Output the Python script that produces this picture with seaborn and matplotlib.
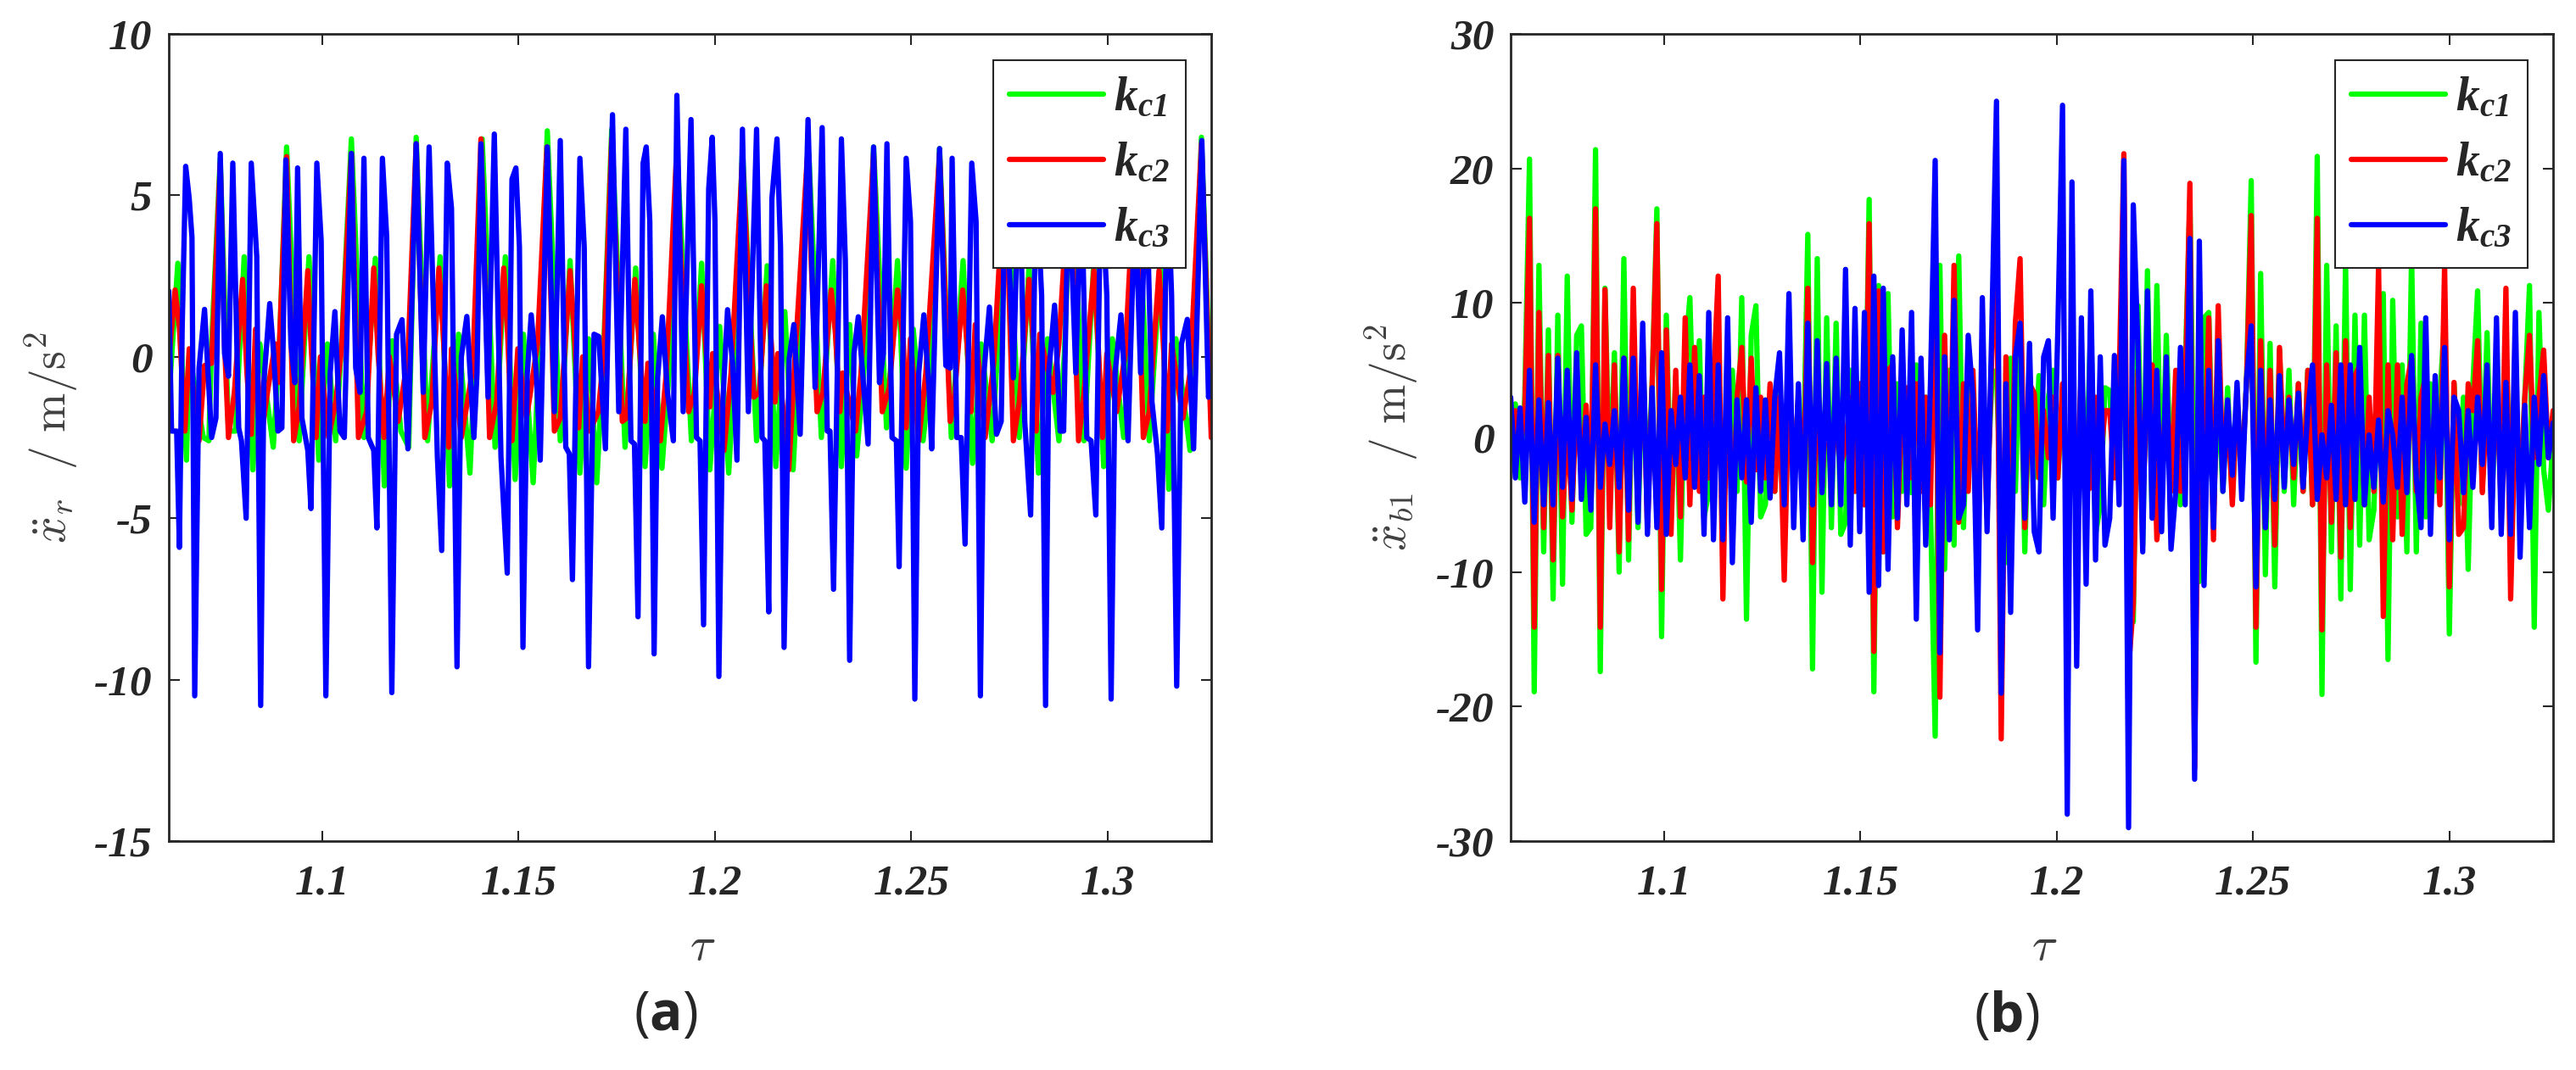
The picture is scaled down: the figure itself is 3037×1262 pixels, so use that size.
import numpy as np
import matplotlib
matplotlib.use("Agg")
import matplotlib.pyplot as plt
import seaborn as sns
from matplotlib.font_manager import FontProperties

# ---------------- panel (a): extrema ----------------
tau_a_c3 = [1.0609, 1.0616, 1.0629, 1.0636, 1.0643, 1.0652, 1.0661, 1.0668, 1.0675, 1.0686,
            1.0700, 1.0718, 1.0729, 1.0740, 1.0751, 1.0761, 1.0772, 1.0787, 1.0794, 1.0806,
            1.0819, 1.0833, 1.0843, 1.0851, 1.0866, 1.0876, 1.0887, 1.0897, 1.0907, 1.0920,
            1.0930, 1.0937, 1.0948, 1.0963, 1.0971, 1.0986, 1.0997, 1.1009, 1.1020, 1.1032,
            1.1045, 1.1056, 1.1074, 1.1085, 1.1096, 1.1106, 1.1117, 1.1131, 1.1139, 1.1153,
            1.1164, 1.1177, 1.1189, 1.1203, 1.1218, 1.1239, 1.1257, 1.1272, 1.1293, 1.1304,
            1.1318, 1.1329, 1.1343, 1.1354, 1.1368, 1.1386, 1.1394, 1.1404, 1.1422, 1.1438,
            1.1455, 1.1471, 1.1483, 1.1493, 1.1502, 1.1511, 1.1522, 1.1532, 1.1545, 1.1555,
            1.1573, 1.1591, 1.1606, 1.1620, 1.1629, 1.1637, 1.1656, 1.1667, 1.1678, 1.1692,
            1.1704, 1.1721, 1.1739, 1.1755, 1.1773, 1.1786, 1.1795, 1.1804, 1.1817, 1.1825,
            1.1834, 1.1845, 1.1854, 1.1866, 1.1879, 1.1894, 1.1903, 1.1919, 1.1939, 1.1953,
            1.1962, 1.1971, 1.1984, 1.1993, 1.2000, 1.2010, 1.2020, 1.2032, 1.2045, 1.2056,
            1.2070, 1.2085, 1.2106, 1.2120, 1.2127, 1.2137, 1.2145, 1.2158, 1.2167, 1.2176,
            1.2189, 1.2201, 1.2217, 1.2237, 1.2255, 1.2273, 1.2286, 1.2293, 1.2302, 1.2322,
            1.2332, 1.2343, 1.2354, 1.2365, 1.2390, 1.2404, 1.2419, 1.2429, 1.2438, 1.2451,
            1.2462, 1.2469, 1.2487, 1.2498, 1.2509, 1.2519, 1.2532, 1.2545, 1.2552, 1.2572,
            1.2588, 1.2599, 1.2604, 1.2616, 1.2627, 1.2637, 1.2654, 1.2665, 1.2676, 1.2685,
            1.2699, 1.2717, 1.2729, 1.2740, 1.2760, 1.2775, 1.2789, 1.2804, 1.2818, 1.2832,
            1.2842, 1.2850, 1.2865, 1.2879, 1.2888, 1.2901, 1.2919, 1.2933, 1.2947, 1.2958,
            1.2970, 1.2983, 1.2998, 1.3009, 1.3019, 1.3034, 1.3052, 1.3070, 1.3084, 1.3098,
            1.3113, 1.3127, 1.3138, 1.3152, 1.3163, 1.3176, 1.3188, 1.3203, 1.3219, 1.3240,
            1.3257, 1.3268]
acc_a_c3 = [2.04, -2.3, -2.3, -5.9, 0.86, 5.9, 4.9, 3.7, -10.5, -0.35,
            1.47, -2.5, -1.9, 6.3, 0.1, -0.6, 6.0, -2.2, -2.6, -5.0,
            6.0, 3.1, -10.8, -0.8, 1.65, 0.1, -2.3, -2.2, 6.1, 0.4,
            -0.8, 5.85, -1.9, -2.9, -4.7, 6.0, 3.6, -10.5, -0.5, 1.4,
            -2.3, -2.5, 6.3, -0.35, -1.1, 6.15, -2.5, -2.9, -5.3, 6.15,
            3.7, -10.4, 0.7, 1.15, -2.85, 6.6, -1.1, 6.5, -3.1, -6.0,
            6.0, 4.6, -9.6, 0.0, 1.25, -2.5, -0.5, 6.6, -1.25, 6.9,
            -3.1, -6.7, 5.5, 5.85, 3.4, -9.0, -0.5, 1.3, -0.5, -3.2,
            6.5, -1.7, 6.7, -2.8, -3.0, -6.9, 6.15, 3.4, -9.6, 0.7,
            0.63, -2.85, 7.5, -1.7, 7.05, -2.6, -2.7, -8.05, 6.0, 6.5,
            4.2, -9.2, -0.65, 1.24, -1.1, -2.6, 8.1, -1.7, 7.35, -2.5,
            -2.6, -8.3, 5.2, 6.8, 4.2, -9.9, -1.4, 1.46, -0.2, -3.2,
            7.05, -1.7, 7.05, -2.5, -2.6, -7.9, 4.9, 6.75, 3.4, -9.0,
            -0.05, 1.0, -2.4, 7.35, -0.95, 7.1, -2.3, -2.3, -7.2, 6.75,
            3.0, -9.4, 0.1, 1.24, -2.7, 6.5, -0.8, 0.1, 6.6, -2.5,
            -2.6, -6.5, 6.15, 4.2, -10.6, -0.5, 1.3, -0.95, -2.85, 6.45,
            -0.27, -0.35, 6.15, -2.5, -2.5, -5.8, 6.0, 4.2, -10.5, -0.5,
            1.54, -2.4, -2.0, 6.2, -0.65, 6.4, -2.0, -4.9, 5.5, 1.9,
            -10.8, -0.5, 1.6, -2.3, -2.3, 5.7, -0.5, 5.7, -2.5, -2.6,
            -4.9, 5.7, 1.9, -10.6, -0.5, 1.3, -2.6, 5.0, -0.5, 5.7,
            -1.4, -3.0, -5.3, 5.7, 1.9, -10.2, 0.4, 1.16, -2.85, 6.7,
            -1.25, -0.5]

tau_a_c2 = [1.0607, 1.0625, 1.0636, 1.0650, 1.0661, 1.0672, 1.0686, 1.0700, 1.0718, 1.0740,
            1.0751, 1.0761, 1.0776, 1.0797, 1.0808, 1.0819, 1.0830, 1.0844, 1.0862, 1.0880,
            1.0887, 1.0909, 1.0927, 1.0941, 1.0963, 1.0970, 1.0984, 1.0995, 1.1016, 1.1034,
            1.1049, 1.1074, 1.1092, 1.1113, 1.1131, 1.1142, 1.1157, 1.1171, 1.1193, 1.1218,
            1.1239, 1.1261, 1.1279, 1.1297, 1.1308, 1.1322, 1.1329, 1.1354, 1.1383, 1.1404,
            1.1426, 1.1444, 1.1462, 1.1472, 1.1483, 1.1498, 1.1520, 1.1530, 1.1548, 1.1572,
            1.1591, 1.1606, 1.1631, 1.1642, 1.1653, 1.1663, 1.1681, 1.1703, 1.1717, 1.1737,
            1.1764, 1.1775, 1.1796, 1.1807, 1.1822, 1.1829, 1.1861, 1.1876, 1.1901, 1.1933,
            1.1948, 1.1966, 1.1976, 1.1987, 1.1994, 1.2023, 1.2041, 1.2070, 1.2099, 1.2113,
            1.2131, 1.2142, 1.2153, 1.2160, 1.2188, 1.2203, 1.2235, 1.2260, 1.2275, 1.2296,
            1.2307, 1.2318, 1.2325, 1.2358, 1.2372, 1.2404, 1.2426, 1.2444, 1.2465, 1.2480,
            1.2487, 1.2498, 1.2519, 1.2537, 1.2572, 1.2599, 1.2609, 1.2631, 1.2642, 1.2652,
            1.2663, 1.2688, 1.2710, 1.2739, 1.2760, 1.2775, 1.2800, 1.2811, 1.2818, 1.2827,
            1.2861, 1.2876, 1.2904, 1.2926, 1.2940, 1.2965, 1.2976, 1.2987, 1.2998, 1.3023,
            1.3045, 1.3070, 1.3091, 1.3106, 1.3131, 1.3142, 1.3152, 1.3163, 1.3192, 1.3210,
            1.3239, 1.3264]
acc_a_c2 = [-0.35, 2.07, 0.9, -2.3, 0.25, -1.1, -2.6, -0.27, -0.2, 6.0,
            0.4, -2.5, -1.1, 2.4, -0.5, -2.4, 0.86, -2.5, -0.95, 0.4,
            -0.8, 6.2, -2.6, -1.55, 2.67, 0.7, -2.5, 0.0, -2.5, -1.4,
            0.25, 6.3, -2.5, -1.7, 2.75, 0.1, -2.5, 0.0, -2.0, 0.0,
            6.6, -2.5, -1.4, 2.75, 0.7, -2.8, 0.25, -2.5, -0.4, 6.75,
            -2.5, -1.4, 2.75, 0.7, -2.6, 0.25, -1.9, -1.1, 0.4, 6.5,
            -2.3, -1.9, 2.67, 0.7, -2.2, 0.0, -2.3, -1.7, 0.1, 6.75,
            -2.0, -1.9, 2.4, 0.4, -2.0, -0.2, -2.6, -0.5, 6.0, -1.7,
            -1.1, 2.2, 0.4, -1.55, 0.1, -2.9, -0.5, 6.15, -1.25, -1.1,
            2.2, 0.7, -1.4, 0.1, -3.5, -0.2, 6.15, -1.7, -1.1, 2.07,
            0.7, -1.7, -0.5, -2.3, -0.5, 6.3, -1.7, -0.95, 2.07, 0.4,
            -2.2, 0.56, -2.6, -0.5, 6.3, -2.0, -1.4, 2.07, 0.4, -1.7,
            1.0, -2.5, -0.2, 6.15, -2.6, -1.4, 2.4, 0.4, -2.3, 0.7,
            -1.1, 0.4, 6.0, -2.6, -1.1, 2.67, 0.4, -2.5, 0.1, -1.7,
            0.1, 6.0, -2.5, -1.7, 2.67, 0.4, -2.3, 0.4, -1.9, -0.5,
            6.6, -2.5]

tau_a_c1 = [1.0607, 1.0632, 1.0654, 1.0661, 1.0697, 1.0711, 1.0718, 1.0740, 1.0761, 1.0779,
            1.0801, 1.0823, 1.0841, 1.0875, 1.0891, 1.0909, 1.0941, 1.0966, 1.0991, 1.1013,
            1.1034, 1.1049, 1.1074, 1.1106, 1.1135, 1.1158, 1.1178, 1.1200, 1.1220, 1.1239,
            1.1268, 1.1300, 1.1324, 1.1347, 1.1376, 1.1387, 1.1407, 1.1440, 1.1466, 1.1491,
            1.1512, 1.1537, 1.1552, 1.1573, 1.1606, 1.1631, 1.1656, 1.1678, 1.1699, 1.1717,
            1.1737, 1.1771, 1.1798, 1.1822, 1.1843, 1.1865, 1.1883, 1.1903, 1.1940, 1.1966,
            1.1987, 1.2012, 1.2035, 1.2052, 1.2070, 1.2106, 1.2133, 1.2155, 1.2178, 1.2199,
            1.2214, 1.2239, 1.2271, 1.2300, 1.2322, 1.2343, 1.2361, 1.2383, 1.2404, 1.2437,
            1.2465, 1.2487, 1.2505, 1.2530, 1.2548, 1.2572, 1.2602, 1.2632, 1.2656, 1.2678,
            1.2706, 1.2721, 1.2740, 1.2775, 1.2800, 1.2824, 1.2847, 1.2876, 1.2890, 1.2908,
            1.2940, 1.2965, 1.2990, 1.3012, 1.3041, 1.3055, 1.3073, 1.3106, 1.3135, 1.3156,
            1.3174, 1.3210, 1.3221, 1.3239, 1.3264]
acc_a_c1 = [-1.7, 2.9, -3.2, 0.1, -2.5, -2.6, 0.4, 6.15, -2.3, -2.3,
            3.1, -3.5, 0.4, -2.8, 0.4, 6.5, -2.6, 3.1, -3.2, 0.4,
            -2.6, 0.4, 6.75, -2.5, 3.05, -4.0, 0.5, -2.3, -2.8, 6.8,
            -2.6, 3.1, -4.0, 0.7, -3.6, -0.5, 6.75, -2.8, 3.1, -3.8,
            0.7, -3.9, 0.1, 7.0, -2.6, 2.98, -3.6, 0.56, -3.9, 0.4,
            7.05, -2.8, 2.75, -3.4, 0.7, -3.45, -0.5, 6.45, -2.6, 2.9,
            -3.5, 0.94, -3.6, 0.1, 6.45, -2.6, 2.82, -3.4, 1.4, -3.5,
            0.1, 6.3, -2.5, 2.98, -3.4, 1.0, -3.07, 0.1, 6.5, -2.2,
            2.98, -3.45, 0.86, -2.6, -0.5, 6.45, -2.5, 2.98, -3.3, 0.4,
            -2.6, 0.4, 6.45, -2.5, 2.82, -3.6, 0.56, -2.6, 0.1, 6.3,
            -2.6, 2.98, -3.4, 0.56, -2.5, 0.1, 6.3, -2.6, 2.98, -4.1,
            0.56, -2.9, 0.1, 6.8, -2.0]

# ---------------- panel (b): values on an even time grid ----------------
acc_b_c1 = [-1.5, 2.5, -3.0, 3.0, 20.7, -18.9, 12.8, -8.5, 8.0, -12.0,
            9.1, -10.9, 12.0, -6.3, 7.6, 8.3, -7.2, -6.7, 21.4, -17.4,
            11.1, -3.7, 6.3, -10.0, 13.3, -9.1, 8.9, -6.7, 6.1, -4.0,
            4.0, 17.0, -14.8, 9.1, -5.0, 4.6, -9.1, 6.0, 10.4, -2.4,
            7.2, -5.9, -4.1, 3.0, 5.0, -4.0, 3.0, 5.0, -4.0, 10.4,
            -13.5, 7.6, 9.8, -5.9, -5.0, 3.0, -4.0, 3.7, -3.0, 4.0,
            -4.0, 3.0, -3.0, 15.1, -17.2, 13.3, -11.5, 8.9, -6.7, 8.5,
            -7.2, -6.3, 5.0, -4.0, 4.0, -5.0, 17.7, -18.9, 11.3, -8.5,
            10.7, -5.9, 4.0, -4.0, 3.0, -4.1, 5.4, -4.0, 3.0, -5.0,
            -22.2, 12.8, -9.8, 5.0, -8.0, 13.5, -6.7, 4.0, 2.0, -4.0,
            3.0, -4.0, 4.0, 5.0, -6.0, -9.3, 5.9, -4.0, 8.5, -8.5,
            4.0, -3.0, 4.6, -5.0, 3.0, 5.0, -3.0, 3.0, -4.0, 3.0,
            -4.0, 4.0, -3.0, 8.5, -7.2, -5.0, 3.7, 3.5, -3.0, 4.0,
            5.0, -11.1, -13.7, 9.8, -8.0, 12.4, -5.9, 11.3, -4.6, 7.6,
            -4.0, 4.0, -5.0, 5.0, 17.6, -8.0, -10.7, 8.9, 9.3, -5.0,
            3.3, -4.0, 3.7, -4.6, 3.0, -3.0, 4.0, 19.1, -16.7, 12.2,
            -10.2, 7.0, -11.1, 6.5, -4.0, 5.0, -5.0, 4.0, -4.0, 5.0,
            -5.0, 20.9, -19.1, 12.8, -8.5, 8.3, -12.0, 13.0, -11.3, 9.1,
            -8.0, 9.1, -7.6, -5.4, 5.0, 10.7, -16.5, 10.2, -5.9, 5.4,
            -8.5, 13.7, -8.5, 8.5, -5.9, 4.0, -4.0, 3.0, 8.9, -14.6,
            4.0, -5.0, 3.0, -9.8, 4.0, 10.9, -4.0, 7.8, -5.0, 4.0,
            -4.0, 7.2, -5.0, 4.0, -5.0, 3.0, 11.3, -14.1, 9.3, -2.4,
            -5.4, -0.2]

acc_b_c2 = [-1.5, 2.0, -1.0, 2.0, 16.3, -14.1, 9.3, -6.7, 6.1, -9.1,
            6.1, -5.9, 1.1, -5.4, 3.0, -3.0, 2.4, -4.0, 17.0, -14.1,
            11.0, -6.7, 5.4, -8.5, 5.9, -7.6, 11.1, -5.0, 7.2, -6.7,
            4.0, 15.9, -11.3, 8.0, -7.2, 5.0, -5.9, 8.9, -5.0, 6.7,
            -4.0, 3.0, -3.0, 4.0, 12.0, -12.0, 6.3, -7.2, 3.0, 6.7,
            -3.3, 5.9, -2.4, 3.0, -3.0, 4.0, -4.0, 3.0, -10.6, 4.0,
            -3.0, 3.0, -5.0, 11.1, -9.3, 5.4, -3.7, 3.0, -3.0, 2.0,
            -2.0, -0.7, 3.0, -4.0, 4.0, -5.0, 15.9, -15.9, 10.9, -8.5,
            5.0, 5.4, -6.7, 3.0, 3.7, -3.0, 4.0, -4.0, 3.0, -5.0,
            12.8, -19.3, 7.6, -5.9, 12.8, -6.3, 4.0, -4.0, 5.0, -5.0,
            4.0, -6.0, 6.0, 14.6, -22.4, 6.0, -8.0, 8.5, 13.3, -6.7,
            4.0, 3.3, -3.0, 2.0, -1.5, 3.0, -3.0, 4.0, -5.0, 3.0,
            -4.0, 5.0, -4.0, -3.7, 3.0, -2.0, 2.0, 2.0, -3.0, 4.0,
            21.1, -17.2, -12.4, 5.0, -5.0, 4.0, 5.4, -7.6, -3.7, 4.0,
            -4.0, 5.0, -4.0, 3.0, 18.9, -24.6, 6.0, -4.0, 8.9, -7.6,
            9.8, -2.8, 2.4, -5.0, 3.0, -3.0, 4.0, 16.5, -14.1, 7.2,
            -6.7, 5.0, -8.0, 6.7, -2.4, 3.0, -3.0, 4.0, -4.0, 5.0,
            -5.0, 16.3, -14.3, 5.4, -6.3, 6.3, -8.9, 7.2, -6.7, 4.6,
            5.4, -5.0, 3.0, -4.0, 12.8, -13.3, 5.4, -7.6, 5.4, -7.2,
            4.0, 5.9, -4.0, 3.0, 4.6, -4.1, 3.0, -5.0, 12.8, -11.1,
            4.1, -7.2, -6.7, 4.0, 2.0, 7.2, -4.1, 3.0, -3.0, 4.0,
            -5.0, 11.1, -12.0, 2.0, -4.1, 3.0, 7.6, -1.5, 3.0, 6.5,
            -1.5, 2.0]

acc_b_c3 = [3.0, -3.0, 2.2, -4.8, 5.0, -6.3, 2.8, -5.0, 2.6, -5.0,
            5.9, -3.7, 5.0, -4.6, 6.3, -4.6, 1.5, -5.4, 5.4, -3.7,
            1.0, -2.0, 2.0, -3.7, 5.9, -5.4, 5.9, -6.3, 8.5, -7.2,
            3.7, -6.7, 6.3, -7.2, 2.0, -2.0, 3.0, -3.0, 5.4, -3.7,
            4.6, -7.2, 9.3, -7.6, 5.4, -7.6, 8.9, -9.3, 2.8, -3.0,
            2.8, -6.3, 3.7, -4.0, 2.8, -4.5, 3.0, 6.3, -5.0, 10.7,
            -6.7, 4.0, -7.6, 8.5, -5.0, 7.2, -4.1, 5.5, -5.0, 5.9,
            -5.0, 12.5, -8.0, 9.6, -7.0, 9.3, -11.5, 12.0, -11.0, 11.1,
            -9.8, 6.0, -6.0, 8.0, -5.0, 9.3, -13.5, 5.9, -8.0, 4.0,
            20.6, -16.0, 6.0, -7.6, 10.2, -6.0, -5.0, 7.6, 3.0, -14.3,
            10.4, -7.0, 8.0, 25.0, -19.0, 4.0, -13.0, 6.0, 8.5, -6.0,
            7.0, -7.0, -8.5, 6.0, 7.2, -6.0, 8.0, 24.7, -28.0, 19.0,
            -17.0, 8.9, -10.9, 10.9, -9.1, 6.0, -8.0, -6.0, 6.1, -5.0,
            20.6, -29.0, 17.3, 6.5, -8.5, 10.9, -6.0, 5.0, -7.0, 6.0,
            -8.3, -4.0, 6.7, -5.0, 14.8, -25.4, 14.6, -11.0, 5.0, -6.7,
            7.2, -4.0, 2.8, -2.8, 4.1, -4.6, 4.3, 8.3, -11.1, 5.0,
            -6.7, 2.8, -4.6, 4.6, -3.7, 2.8, -2.0, 3.3, -3.7, 2.0,
            5.4, -4.6, 0.2, -3.0, 2.4, -4.6, 5.4, -5.0, 5.4, -4.6,
            6.7, -5.0, 0.2, -3.7, 1.3, -4.8, 2.0, 0.2, -3.7, 3.0,
            -4.1, 6.1, -3.0, -6.7, 8.9, -7.2, 4.6, -3.0, 6.7, -7.6,
            3.0, 2.0, -4.1, 2.0, -3.7, 3.0, -2.0, 5.4, -6.7, 8.9,
            -7.2, 4.1, -7.2, 9.3, -8.9, 2.4, -6.7, 3.0, -2.0, 4.6,
            -1.5, 1.1]

tau_start, tau_end = 1.0609, 1.3264
xticks = [1.1, 1.15, 1.2, 1.25, 1.3]
xticklabels = ["1.1", "1.15", "1.2", "1.25", "1.3"]
labels = [r"$\mathbfit{k_{c1}}$", r"$\mathbfit{k_{c2}}$", r"$\mathbfit{k_{c3}}$"]
colors = ["#00ff00", "#ff0000", "#0000ff"]

sns.set_style("ticks")
plt.rcParams["font.family"] = ["Liberation Serif", "DejaVu Serif"]
plt.rcParams["axes.unicode_minus"] = False
plt.rcParams["mathtext.fontset"] = "custom"
plt.rcParams["mathtext.it"] = "Liberation Serif:italic:bold"
plt.rcParams["mathtext.bfit"] = "Liberation Serif:italic:bold"
plt.rcParams["mathtext.rm"] = "Open Sans:roman:regular"
plt.rcParams["mathtext.bf"] = "Open Sans:roman:bold"

tick_font = FontProperties(family="Liberation Serif", style="italic",
                           weight="bold", size=37)
leg_font = FontProperties(family="Liberation Serif", style="italic",
                          weight="bold", size=40)

fig = plt.figure(figsize=(30.37, 12.62), dpi=100)
ax_a = fig.add_axes([0.06553, 0.2139, 0.40468, 0.75436])
ax_b = fig.add_axes([0.58643, 0.2139, 0.40468, 0.75436])

series_a = [(tau_a_c1, acc_a_c1), (tau_a_c2, acc_a_c2), (tau_a_c3, acc_a_c3)]
series_b = [acc_b_c1, acc_b_c2, acc_b_c3]

for (t, v), c, lab in zip(series_a, colors, labels):
    sns.lineplot(x=t, y=v, ax=ax_a, color=c, linewidth=4.5, label=lab,
                 estimator=None, sort=False)
for v, c, lab in zip(series_b, colors, labels):
    t = np.linspace(tau_start, tau_end, len(v))
    sns.lineplot(x=t, y=v, ax=ax_b, color=c, linewidth=4.5, label=lab,
                 estimator=None, sort=False)


def style(ax, ylim, yticks, ylabel, ylab_x):
    ax.set_xlim(tau_start, tau_end)
    ax.set_ylim(*ylim)
    ax.set_xticks(xticks)
    ax.set_xticklabels(xticklabels, fontproperties=tick_font)
    ax.set_yticks(yticks)
    ax.set_yticklabels([str(y) for y in yticks], fontproperties=tick_font)
    ax.tick_params(direction="in", length=9, width=1.5, top=True, right=True,
                   colors="#262626")
    ax.tick_params(axis="x", pad=20)
    ax.tick_params(axis="y", pad=14)
    for s in ax.spines.values():
        s.set_visible(True)
        s.set_linewidth(2)
        s.set_color("#262626")
    ax.set_xlabel(r"$\tau$", fontsize=40, color="#404040", math_fontfamily="cm")
    ax.xaxis.set_label_coords(0.512, -0.105)
    ax.set_ylabel(ylabel, fontsize=40, color="#404040", math_fontfamily="cm")
    ax.yaxis.set_label_coords(ylab_x, 0.5)
    leg = ax.legend(loc="upper right", bbox_to_anchor=(0.9756, 0.9674),
                    borderaxespad=0, prop=leg_font, handlelength=2.0,
                    handletextpad=0.2, labelspacing=0.45, borderpad=0.35,
                    fancybox=False, framealpha=1, edgecolor="#262626")
    leg.get_frame().set_linewidth(1.5)


style(ax_a, (-15, 10), [-15, -10, -5, 0, 5, 10],
      r"$\ddot{x}_r\ \ /\ \mathrm{m/s}^2$", -0.0846)
style(ax_b, (-30, 30), [-30, -20, -10, 0, 10, 20, 30],
      r"$\ddot{x}_{b1}\ \ /\ \mathrm{m/s}^2$", -0.0862)

fig.text(0.2585, 0.0499, r"$\mathrm{(}\mathbf{a}\mathrm{)}$", fontsize=46,
         ha="center", va="center")
fig.text(0.779, 0.0499, r"$\mathrm{(}\mathbf{b}\mathrm{)}$", fontsize=46,
         ha="center", va="center")

fig.savefig("out.png", dpi=100)
